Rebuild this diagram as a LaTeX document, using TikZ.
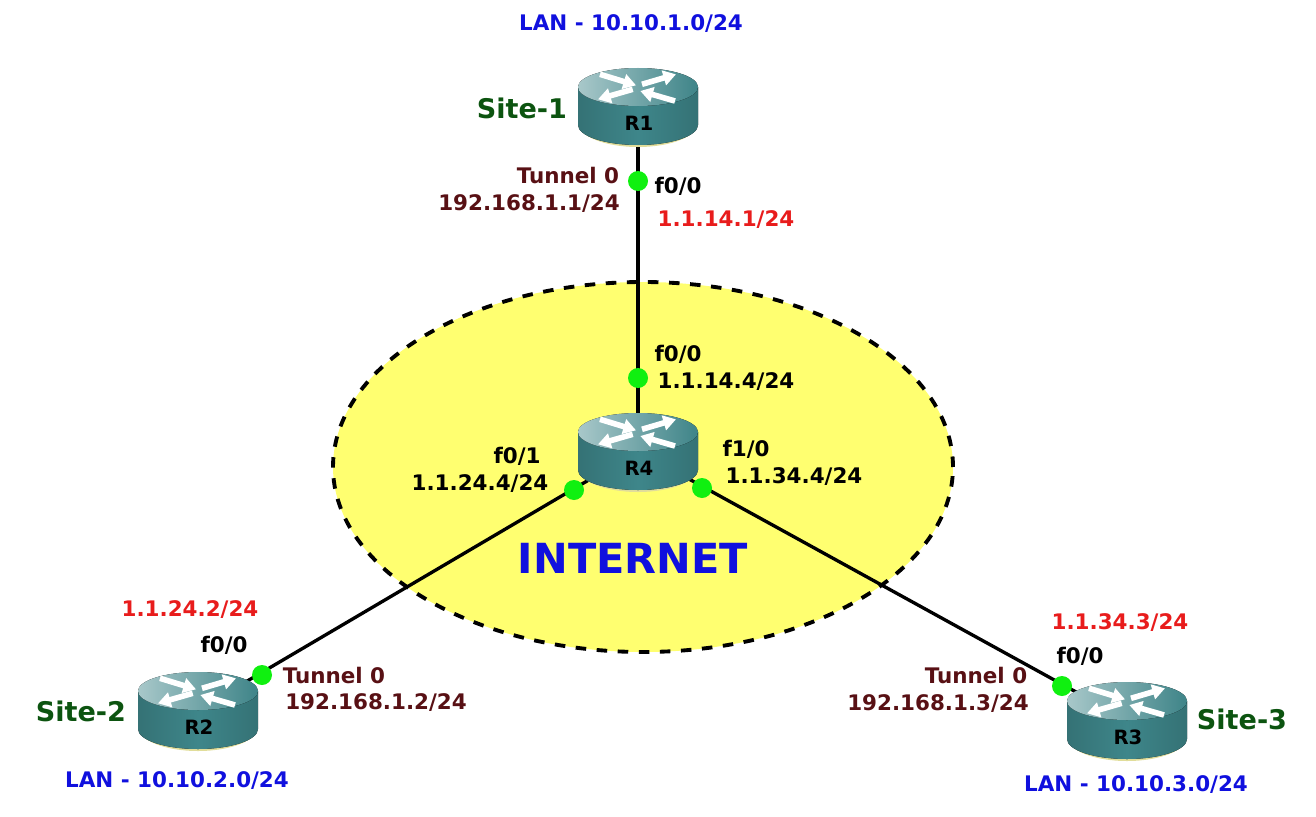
\documentclass[tikz,border=0pt]{standalone}
\usepackage{fontspec}
\setmainfont{DejaVu Sans}
\usepackage{xcolor}
\usetikzlibrary{arrows.meta,backgrounds,shapes.geometric}
\definecolor{lan}{RGB}{16,16,222}
\definecolor{site}{RGB}{12,84,16}
\definecolor{tun}{RGB}{88,16,20}
\definecolor{pub}{RGB}{232,28,28}
\definecolor{cloud}{RGB}{255,255,112}
\definecolor{port}{RGB}{16,240,16}
\definecolor{rtop}{RGB}{62,132,136}
\definecolor{rside}{RGB}{62,134,138}
\tikzset{
  lbl/.style={font=\fontsize{6.1}{7}\bfseries\selectfont,inner sep=0pt},
  lanlbl/.style={lbl,text=lan},
  tunlbl/.style={lbl,text=tun},
  publbl/.style={lbl,text=pub},
  ifclbl/.style={lbl,text=black},
  sitelbl/.style={font=\fontsize{7.7}{9}\bfseries\selectfont,text=site,inner sep=0pt},
  portdot/.style={circle,fill=port,minimum size=0.2cm,inner sep=0pt},
  link/.style={line width=0.95pt,black},
  rarrow/.style={white,line width=1.6pt,-{Triangle[width=4.2pt,length=3.6pt]}},
  router/.pic={
    \coordinate (-c) at (0,0);
    % shadow, body, then lid
    \fill[black!30!yellow!45!white] (-0.6,-0.17) -- (0.6,-0.17) arc[start angle=0,end angle=-180,x radius=0.6,y radius=0.24] -- cycle;
    \fill[left color=rside!85!black,right color=rside!85!black,middle color=rside] (-0.6,0.19) -- (-0.6,-0.19) arc[start angle=180,end angle=360,x radius=0.6,y radius=0.2] -- (0.6,0.19) -- cycle;
    \fill[left color=rtop!45!white,middle color=rtop!92!white,right color=rtop] (0,0.19) ellipse[x radius=0.6,y radius=0.19];
    \draw[rarrow] (-0.38,0.317) -- (-0.02,0.207);
    \draw[rarrow] (0.04,0.217) -- (0.38,0.317);
    \draw[rarrow] (-0.053,0.167) -- (-0.40,0.067);
    \draw[rarrow] (0.37,0.05) -- (0.023,0.15);
    \node[font=\fontsize{5.6}{7}\bfseries\selectfont,inner sep=0pt] (-lab) at (0.01,-0.17) {#1};
  }
}

\begin{document}
\begin{tikzpicture}
    \useasboundingbox (0,0) rectangle (13.16,8.16);

    \pic (r1) at (6.38,7.10) {router={R1}};
    \pic (r4) at (6.38,3.65) {router={R4}};
    \pic (r2) at (1.98,1.06) {router={R2}};
    \pic (r3) at (11.27,0.96) {router={R3}};

    \begin{scope}[on background layer]
    \node[ellipse,draw,dashed,fill=cloud,line width=1.1pt,minimum width=6.2cm,minimum height=3.7cm,inner sep=0pt] (inet) at (6.43,3.49) {};
    \draw[link] (r1-c) -- (r4-c);
    \draw[link] (r4-c) -- (r2-c);
    \draw[link] (r4-c) -- (r3-c);
    \end{scope}

    \node[portdot] (p1) at (6.38,6.35) {};
    \node[portdot] (p14) at (6.38,4.38) {};
    \node[portdot] (p24) at (5.74,3.26) {};
    \node[portdot] (p34) at (7.02,3.28) {};
    \node[portdot] (p2) at (2.62,1.41) {};
    \node[portdot] (p3) at (10.62,1.30) {};

    \node[font=\fontsize{11.8}{14}\bfseries\selectfont,text=lan,inner sep=0pt] (title) at (6.33,2.58) {INTERNET};

    % site 1
    \node[lanlbl] (lan1) at (6.31,7.92) {LAN - 10.10.1.0/24};
    \node[sitelbl] (site1) at (5.22,7.08) {Site-1};
    \node[tunlbl] (tun1) at (5.68,6.40) {Tunnel 0};
    \node[tunlbl] (tunip1) at (5.29,6.12) {192.168.1.1/24};
    \node[ifclbl] (if1) at (6.78,6.30) {f0/0};
    \node[publbl] (ip1) at (7.26,5.96) {1.1.14.1/24};

    % internet router
    \node[ifclbl] (if14) at (6.78,4.62) {f0/0};
    \node[ifclbl] (ip14) at (7.26,4.34) {1.1.14.4/24};
    \node[ifclbl] (if24) at (5.17,3.60) {f0/1};
    \node[ifclbl] (ip24) at (4.80,3.32) {1.1.24.4/24};
    \node[ifclbl] (if34) at (7.46,3.67) {f1/0};
    \node[ifclbl] (ip34) at (7.94,3.39) {1.1.34.4/24};

    % site 2
    \node[publbl] (ip2) at (1.90,2.06) {1.1.24.2/24};
    \node[ifclbl] (if2) at (2.24,1.71) {f0/0};
    \node[tunlbl] (tun2) at (3.34,1.41) {Tunnel 0};
    \node[tunlbl] (tunip2) at (3.76,1.13) {192.168.1.2/24};
    \node[sitelbl] (site2) at (0.81,1.05) {Site-2};
    \node[lanlbl] (lan2) at (1.77,0.35) {LAN - 10.10.2.0/24};

    % site 3
    \node[publbl] (ip3) at (11.20,1.93) {1.1.34.3/24};
    \node[ifclbl] (if3) at (10.80,1.60) {f0/0};
    \node[tunlbl] (tun3) at (9.76,1.41) {Tunnel 0};
    \node[tunlbl] (tunip3) at (9.38,1.12) {192.168.1.3/24};
    \node[sitelbl] (site3) at (12.42,0.97) {Site-3};
    \node[lanlbl] (lan3) at (11.36,0.31) {LAN - 10.10.3.0/24};
\end{tikzpicture}
\end{document}
